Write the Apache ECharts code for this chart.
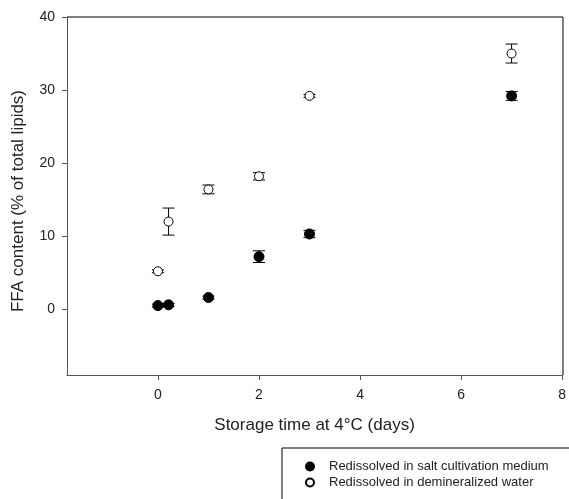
<!DOCTYPE html>
<html lang="en">
<head>
	<meta charset="UTF-8">
	<title>FFA content</title>
	<style>
		*{ margin: 0; padding: 0; }
		html,body{ background: #fff; }
		.box{ width: 569px; height: 499px; }
	</style>
	<script src="https://cdn.jsdelivr.net/npm/echarts@6/dist/echarts.min.js"></script>
</head>
<body>
	<div class="box"></div>
	<script>
		// storage days
		var days = [0, 0.21, 1, 2, 3, 7];
		var saltMean = [0.5, 0.6, 1.6, 7.2, 10.3, 29.2];
		var saltErr = [0.2, 0.2, 0.2, 0.8, 0.5, 0.6];
		var waterMean = [5.2, 12.0, 16.4, 18.2, 29.2, 35.0];
		var waterErr = [0.2, 1.85, 0.6, 0.5, 0.2, 1.3];
		var xTicks = [0, 2, 4, 6, 8];
		var yTicks = [0, 10, 20, 30, 40];

		var chart = echarts.init(document.querySelector('.box'));
		var font = 'Liberation Sans, Arial, sans-serif';

		function pts(mean) {
			return days.map((d, i) => [d, mean[i]]);
		}
		function errData(mean, err) {
			return days.map((d, i) => [d, mean[i] - err[i], mean[i] + err[i]]);
		}
		function errSeries(mean, err) {
			return {
				type: 'custom',
				data: errData(mean, err),
				z: 1,
				silent: true,
				renderItem: function (params, api) {
					var lo = api.coord([api.value(0), api.value(1)]);
					var hi = api.coord([api.value(0), api.value(2)]);
					var w = 6;
					var st = { stroke: '#000', lineWidth: 1 };
					return {
						type: 'group',
						children: [
							{ type: 'line', shape: { x1: lo[0], y1: lo[1], x2: hi[0], y2: hi[1] }, style: st },
							{ type: 'line', shape: { x1: lo[0] - w, y1: lo[1], x2: lo[0] + w, y2: lo[1] }, style: st },
							{ type: 'line', shape: { x1: hi[0] - w, y1: hi[1], x2: hi[0] + w, y2: hi[1] }, style: st }
						]
					};
				}
			};
		}

		var option = {
			animation: false,
			grid: { left: 67, right: 6, top: 17, bottom: 124 },
			xAxis: {
				type: 'value',
				min: -1.8,
				max: 8,
				name: 'Storage time at 4\u00B0C (days)',
				nameLocation: 'middle',
				nameGap: 42,
				nameTextStyle: { fontFamily: font, fontSize: 17, color: '#222' },
				axisLine: { onZero: false, lineStyle: { color: '#555' } },
				axisTick: { show: true, length: 5, lineStyle: { color: '#555' }, customValues: xTicks },
				axisLabel: {
					fontFamily: font, fontSize: 14, color: '#222', margin: 13,
					customValues: xTicks
				},
				splitLine: { show: false }
			},
			yAxis: {
				type: 'value',
				min: -9,
				max: 40,
				name: 'FFA content (% of total lipids)',
				nameLocation: 'middle',
				nameGap: 40,
				nameTextStyle: { fontFamily: font, fontSize: 17, color: '#222', padding: [0, 10, 0, 0] },
				axisLine: { onZero: false, lineStyle: { color: '#555' } },
				axisTick: { show: true, length: 5, lineStyle: { color: '#555' }, customValues: yTicks },
				axisLabel: {
					fontFamily: font, fontSize: 14, color: '#222', margin: 12,
					customValues: yTicks
				},
				splitLine: { show: false }
			},
			graphic: [
				{ type: 'line', shape: { x1: 67, y1: 17, x2: 563, y2: 17 }, style: { stroke: '#000', lineWidth: 1 } },
				{ type: 'line', shape: { x1: 563, y1: 17, x2: 563, y2: 375 }, style: { stroke: '#000', lineWidth: 1 } },
				{ type: 'rect', shape: { x: 282, y: 448, width: 300, height: 60 }, style: { fill: '#fff', stroke: '#000', lineWidth: 1 } }
			],
			legend: {
				left: 300,
				top: 455,
				orient: 'vertical',
				itemGap: 3,
				itemWidth: 8,
				itemHeight: 8,
				textStyle: { fontFamily: font, fontSize: 13, color: '#222', padding: [0, 0, 0, 10] },
				data: ['Redissolved in salt cultivation medium', 'Redissolved in demineralized water']
			},
			series: [
				errSeries(saltMean, saltErr),
				errSeries(waterMean, waterErr),
				{
					name: 'Redissolved in salt cultivation medium',
					type: 'scatter',
					symbol: 'circle',
					symbolSize: 10,
					z: 3,
					itemStyle: { color: '#000', borderColor: '#000', borderWidth: 1, opacity: 1 },
					data: pts(saltMean)
				},
				{
					name: 'Redissolved in demineralized water',
					type: 'scatter',
					symbol: 'circle',
					symbolSize: 9,
					z: 3,
					itemStyle: { color: '#fff', borderColor: '#000', borderWidth: 1, opacity: 1 },
					data: pts(waterMean)
				}
			]
		};
		chart.setOption(option);
	</script>
</body>
</html>
